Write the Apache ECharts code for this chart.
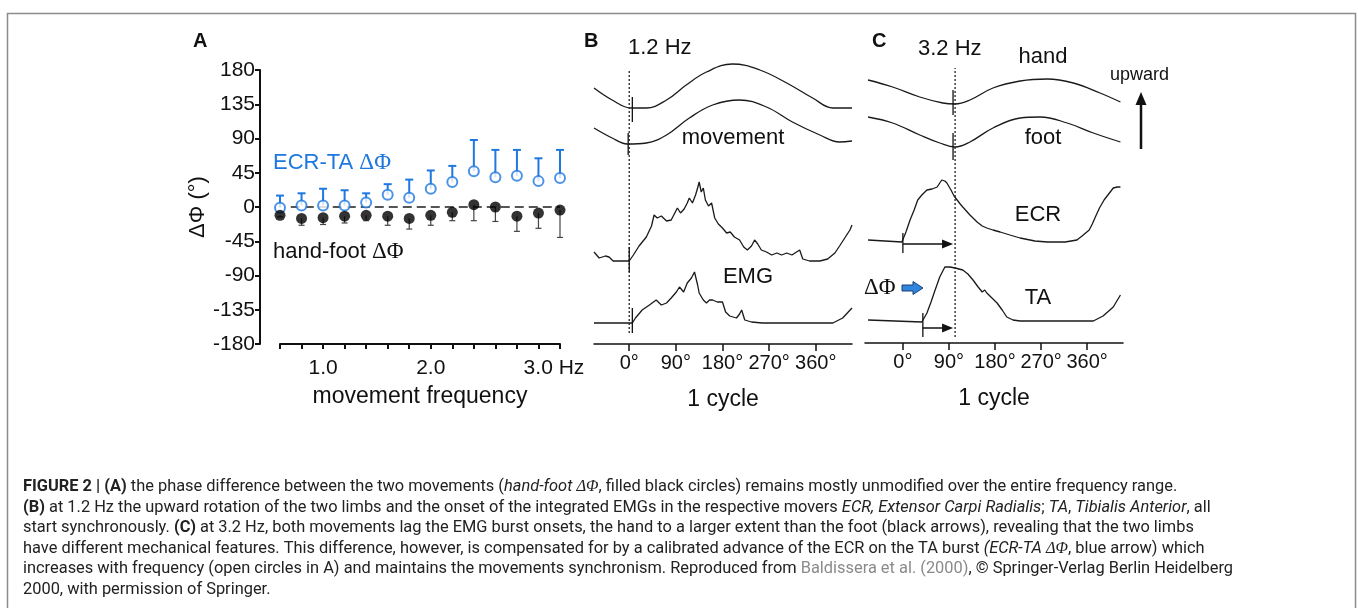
<!DOCTYPE html>
<html>
<head>
<meta charset="utf-8">
<script src="https://cdn.jsdelivr.net/npm/echarts@6/dist/echarts.min.js"></script>
<style>
  html, body { margin: 0; padding: 0; background: #fff; }
  #main { width: 1358px; height: 608px; }
</style>
</head>
<body>
<div id="main"></div>
<script>
// ---- panel A: phase difference vs movement frequency
const freqs = [0.6, 0.8, 1.0, 1.2, 1.4, 1.6, 1.8, 2.0, 2.2, 2.4, 2.6, 2.8, 3.0, 3.2];
const ecrTa = [-1, 2, 2, 2, 6, 16, 12, 24, 33, 47, 39, 41, 34, 38];
const ecrTaUpper = [15, 18, 24, 22, 18, 30, 36, 48, 54, 88, 75, 75, 64, 75];
const handFoot = [-11, -15, -14, -12, -11, -12, -15, -11, -7, 3, 0, -12, -8, -4];
const handFootLower = [-13, -24, -23, -21, -18, -24, -29, -24, -18, -18, -19, -32, -28, -40];
const zeroLine = [[0.7, 0], [3.2, 0]];
const freqLabels = [1, 2, 3];

// ---- panels B and C: one cycle, [degrees, trace level]
const degTicks = [0, 90, 180, 270, 360];

// B, 1.2 Hz
const bHand = [[-68, 256], [-33, 244], [4, 236], [33, 236], [72, 244], [110, 259], [149, 272], [199, 280],
  [252, 274], [304, 261], [354, 246], [393, 236], [430, 236]];
const bFoot = [[-68, 216], [-33, 206], [-4, 200], [33, 201], [72, 209], [116, 226], [161, 239], [213, 244],
  [265, 237], [315, 222], [368, 209], [406, 202], [430, 203]];
const bEcr = [[-68, 92], [-58, 86], [-46, 88], [-39, 87], [-31, 83], [0, 83], [8, 89], [19, 98], [33, 107],
  [43, 118], [48, 129], [54, 126], [62, 128], [72, 123], [81, 124], [89, 132], [93, 136], [99, 131],
  [106, 135], [112, 141], [116, 146], [122, 141], [128, 149], [132, 156], [135, 162], [139, 152],
  [143, 156], [147, 144], [153, 138], [159, 141], [165, 126], [172, 120], [180, 116], [188, 111],
  [195, 112], [203, 107], [213, 104], [221, 97], [228, 94], [236, 98], [242, 104], [248, 100],
  [255, 94], [265, 92], [275, 89], [285, 91], [294, 89], [304, 91], [314, 89], [323, 92], [329, 94],
  [335, 85], [348, 83], [368, 83], [383, 85], [397, 91], [406, 98], [416, 106], [426, 114], [430, 119]];
const bTa = [[-68, 21], [6, 21], [12, 26], [25, 34], [39, 39], [52, 44], [62, 39], [72, 41], [81, 46],
  [91, 52], [97, 57], [105, 52], [112, 61], [120, 66], [126, 72], [132, 59], [135, 51], [143, 44],
  [149, 41], [155, 44], [161, 44], [170, 42], [180, 42], [186, 32], [194, 28], [207, 26], [213, 30],
  [217, 34], [223, 24], [236, 22], [257, 21], [393, 21], [412, 26], [430, 36]];
const bOnset = [[0, 11], [0, 274]];
// onset ticks: [degree, from, to]
const bMarks = [[6, 222, 247], [-2, 189, 211], [0, 72, 97], [6, 11, 36]];

// C, 3.2 Hz
const cHand = [[-68, 263], [-20, 256], [33, 246], [78, 240], [102, 239], [131, 243], [176, 255],
  [229, 262], [282, 264], [333, 260], [385, 250], [425, 241]];
const cFoot = [[-68, 226], [-20, 220], [33, 208], [72, 200], [102, 196], [131, 201], [176, 215],
  [229, 225], [268, 226], [321, 220], [372, 210], [425, 201]];
const cEcr = [[-68, 103], [-35, 102], [-2, 101], [6, 111], [14, 123], [22, 133], [29, 143], [37, 148],
  [47, 153], [57, 154], [67, 156], [72, 160], [76, 163], [82, 162], [86, 160], [94, 153], [100, 147],
  [106, 143], [112, 139], [117, 136], [131, 128], [145, 121], [155, 117], [164, 115], [176, 113],
  [190, 111], [209, 108], [229, 105], [258, 102], [282, 101], [317, 101], [340, 103], [350, 107],
  [364, 113], [370, 119], [376, 126], [384, 135], [393, 143], [399, 147], [405, 151], [411, 155],
  [419, 156], [425, 156]];
const cTa = [[-68, 23], [37, 21], [47, 30], [55, 41], [63, 53], [72, 66], [82, 76], [92, 76], [102, 75],
  [117, 73], [127, 69], [137, 63], [147, 56], [155, 51], [160, 53], [164, 50], [174, 45], [184, 40],
  [194, 33], [203, 26], [215, 23], [229, 22], [372, 22], [391, 27], [411, 36], [425, 48]];
const cOnset = [[102, 6], [102, 275]];
const cMarks = [[98, 228, 253], [98, 183, 210], [0, 90, 110], [39, 6, 30]];
// lag arrows: [from degree, to degree, level]
const cLags = [[0, 98, 99], [39, 98, 15]];

const BLUE = '#1f78e0';
const FONT = '"Liberation Sans", Arial, sans-serif';
const GREEK = '"Liberation Serif", "DejaVu Serif", serif';
const CAP = 16.4;

const chart = echarts.init(document.getElementById('main'));

function errorBar(color, width, capW) {
  return function (params, api) {
    const p0 = api.coord([api.value(0), api.value(1)]);
    const p1 = api.coord([api.value(0), api.value(2)]);
    const st = { stroke: color, lineWidth: width };
    return {
      type: 'group',
      children: [
        { type: 'line', shape: { x1: p0[0], y1: p0[1], x2: p1[0], y2: p1[1] }, style: st },
        { type: 'line', shape: { x1: p1[0] - capW / 2, y1: p1[1], x2: p1[0] + capW / 2, y2: p1[1] }, style: st }
      ]
    };
  };
}

function vTick(params, api) {
  const p0 = api.coord([api.value(0), api.value(1)]);
  const p1 = api.coord([api.value(0), api.value(2)]);
  return { type: 'line', shape: { x1: p0[0], y1: p0[1], x2: p1[0], y2: p1[1] }, style: { stroke: '#111', lineWidth: 1.3 } };
}

function lagArrow(params, api) {
  const a = api.coord([api.value(0), api.value(2)]);
  const b = api.coord([api.value(1), api.value(2)]);
  return {
    type: 'group',
    children: [
      { type: 'line', shape: { x1: a[0], y1: a[1], x2: b[0] - 8, y2: b[1] }, style: { stroke: '#111', lineWidth: 1.5 } },
      { type: 'polygon', shape: { points: [[b[0], b[1]], [b[0] - 11, b[1] - 4.5], [b[0] - 11, b[1] + 4.5]] }, style: { fill: '#111' } }
    ]
  };
}

function trace(data, xi, smooth) {
  return {
    type: 'line', xAxisIndex: xi, yAxisIndex: xi, data: data, symbol: 'none', smooth: smooth ? 0.4 : false,
    lineStyle: { color: '#1a1a1a', width: 1.3 }, silent: true, z: 3
  };
}

function cycleAxis(gi, min) {
  return {
    type: 'value', gridIndex: gi, min: min, max: 430,
    axisLine: { show: true, onZero: false, lineStyle: { color: '#111', width: 1.5 } },
    axisTick: { show: true, customValues: degTicks, length: 7, lineStyle: { color: '#111', width: 1.5 } },
    axisLabel: { customValues: degTicks, formatter: '{value}°', fontSize: 20, color: '#111', margin: 9, fontFamily: FONT },
    splitLine: { show: false },
    name: '1 cycle', nameLocation: 'middle', nameGap: 44,
    nameTextStyle: { fontSize: 23, color: '#111', fontFamily: FONT }
  };
}

function hiddenY(gi) {
  return { type: 'value', gridIndex: gi, min: 0, max: 300, show: false };
}

function label(text, x, y, size, opts) {
  return {
    type: 'text', x: x, y: y, silent: true,
    style: Object.assign({ text: text, fontSize: size, fontFamily: FONT, fill: '#111', verticalAlign: 'middle', align: 'left' }, opts || {})
  };
}

const captionLines = [
  '{b|FIGURE 2 | (A)} the phase difference between the two movements ({i|hand-foot }{ig|ΔΦ}, filled black circles) remains mostly unmodified over the entire frequency range.',
  '{b|(B)} at 1.2 Hz the upward rotation of the two limbs and the onset of the integrated EMGs in the respective movers {i|ECR, Extensor Carpi Radialis}; {i|TA}, {i|Tibialis Anterior}, all',
  'start synchronously. {b|(C)} at 3.2 Hz, both movements lag the EMG burst onsets, the hand to a larger extent than the foot (black arrows), revealing that the two limbs',
  'have different mechanical features. This difference, however, is compensated for by a calibrated advance of the ECR on the TA burst {i|(ECR-TA }{ig|ΔΦ}, blue arrow) which',
  'increases with frequency (open circles in A) and maintains the movements synchronism. Reproduced from {g|Baldissera et al. (2000)}, © Springer-Verlag Berlin Heidelberg',
  '2000, with permission of Springer.'
];
const capRich = {
  b: { fontWeight: 'bold', fontSize: CAP, fontFamily: 'Roboto', fill: '#222' },
  i: { fontStyle: 'italic', fontSize: CAP, fontFamily: 'Roboto', fill: '#222' },
  ig: { fontStyle: 'italic', fontSize: CAP, fontFamily: GREEK, fill: '#222' },
  g: { fontSize: CAP, fontFamily: 'Roboto', fill: '#8a8a8a' }
};

const graphics = [
  { type: 'rect', shape: { x: 7.5, y: 13.5, width: 1348, height: 620 }, style: { fill: 'none', stroke: '#8c8c8c', lineWidth: 1.5 }, silent: true },
  label('A', 193, 41, 20, { fontWeight: 'bold' }),
  label('{t|ECR-TA }{g|ΔΦ}', 273, 163, 22, {
    rich: { t: { fontSize: 22, fontFamily: FONT, fill: BLUE }, g: { fontSize: 23, fontFamily: GREEK, fill: BLUE } }
  }),
  label('{t|hand-foot }{g|ΔΦ}', 273, 252, 22, {
    rich: { t: { fontSize: 22, fontFamily: FONT, fill: '#111' }, g: { fontSize: 23, fontFamily: GREEK, fill: '#111' } }
  }),
  label('B', 584, 41, 20, { fontWeight: 'bold' }),
  label('1.2 Hz', 628, 48, 22),
  label('movement', 733, 138, 22, { align: 'center' }),
  label('EMG', 748, 277, 22, { align: 'center' }),
  label('C', 872, 41, 20, { fontWeight: 'bold' }),
  label('3.2 Hz', 918, 49, 22),
  label('hand', 1043, 57, 22, { align: 'center' }),
  label('foot', 1043, 138, 22, { align: 'center' }),
  label('ECR', 1038, 215, 22, { align: 'center' }),
  label('TA', 1038, 298, 22, { align: 'center' }),
  label('ΔΦ', 864, 288, 23, { fontFamily: GREEK }),
  label('upward', 1110, 75, 18),
  { type: 'line', shape: { x1: 1141, y1: 149, x2: 1141, y2: 102 }, style: { stroke: '#111', lineWidth: 2.5 }, silent: true },
  { type: 'polygon', shape: { points: [[1141, 92], [1135.5, 105], [1146.5, 105]] }, style: { fill: '#111' }, silent: true },
  {
    type: 'polygon', silent: true,
    shape: { points: [[902, 285], [913, 285], [913, 281.5], [923, 288], [913, 294.5], [913, 291], [902, 291]] },
    style: { fill: '#2f86e0', stroke: '#1d3f73', lineWidth: 1 }
  }
];
captionLines.forEach(function (t, i) {
  graphics.push({
    type: 'text', x: 23, y: 487 + i * 20.6, silent: true,
    style: { text: t, rich: capRich, fontSize: CAP, fontFamily: 'Roboto', fill: '#222', verticalAlign: 'middle' }
  });
});

const option = {
  animation: false,
  backgroundColor: '#fff',
  textStyle: { fontFamily: FONT },
  grid: [
    { left: 280, width: 280, top: 70, height: 274 },
    { left: 594, width: 258, top: 44, height: 300 },
    { left: 865, width: 258, top: 43, height: 300 }
  ],
  xAxis: [
    {
      type: 'value', gridIndex: 0, min: 0.6, max: 3.2,
      axisLine: { show: true, onZero: false, lineStyle: { color: '#111', width: 2 } },
      axisTick: { show: true, customValues: freqs, length: 5, lineStyle: { color: '#111', width: 2 } },
      axisLabel: {
        customValues: freqLabels, fontSize: 21, color: '#111', margin: 14, fontFamily: FONT,
        formatter: function (v) { return v === 3 ? '{h|3.0 Hz}' : v.toFixed(1); },
        rich: { h: { fontSize: 21, color: '#111', fontFamily: FONT, padding: [0, 0, 0, 31] } }
      },
      splitLine: { show: false },
      name: 'movement frequency', nameLocation: 'middle', nameGap: 41,
      nameTextStyle: { fontSize: 23, color: '#111', fontFamily: FONT }
    },
    cycleAxis(1, -68),
    cycleAxis(2, -74)
  ],
  yAxis: [
    {
      type: 'value', gridIndex: 0, min: -180, max: 180, interval: 45, offset: 20,
      axisLine: { show: true, onZero: false, lineStyle: { color: '#111', width: 2 } },
      axisTick: { show: true, length: 5, lineStyle: { color: '#111', width: 2 } },
      axisLabel: { fontSize: 21, color: '#111', margin: 5, fontFamily: FONT },
      splitLine: { show: false },
      name: 'ΔΦ (°)', nameLocation: 'middle', nameGap: 40, nameRotate: 90,
      nameTextStyle: { fontSize: 22, color: '#111', fontFamily: FONT }
    },
    hiddenY(1),
    hiddenY(2)
  ],
  graphic: graphics,
  series: [
    {
      type: 'line', xAxisIndex: 0, yAxisIndex: 0, data: zeroLine, symbol: 'none', silent: true, z: 1,
      lineStyle: { color: '#555', width: 1.8, type: [9, 5] }
    },
    {
      type: 'custom', xAxisIndex: 0, yAxisIndex: 0, z: 2, silent: true,
      renderItem: errorBar(BLUE, 2, 8),
      data: freqs.map(function (f, i) { return [f, ecrTa[i], ecrTaUpper[i]]; })
    },
    {
      type: 'custom', xAxisIndex: 0, yAxisIndex: 0, z: 2, silent: true,
      renderItem: errorBar('#444', 1.2, 6),
      data: freqs.map(function (f, i) { return [f, handFoot[i], handFootLower[i]]; })
    },
    {
      type: 'scatter', xAxisIndex: 0, yAxisIndex: 0, z: 4, symbolSize: 10, clip: false,
      itemStyle: { color: '#fff', borderColor: BLUE, borderWidth: 2 },
      data: freqs.map(function (f, i) { return [f, ecrTa[i]]; })
    },
    {
      type: 'scatter', xAxisIndex: 0, yAxisIndex: 0, z: 4, symbolSize: 11, clip: false,
      itemStyle: { color: '#000' },
      data: freqs.map(function (f, i) { return [f, handFoot[i]]; })
    },
    trace(bHand, 1, true),
    trace(bFoot, 1, true),
    trace(bEcr, 1, false),
    trace(bTa, 1, false),
    {
      type: 'line', xAxisIndex: 1, yAxisIndex: 1, data: bOnset, symbol: 'none', silent: true,
      lineStyle: { color: '#222', width: 1.3, type: [2, 2] }
    },
    { type: 'custom', xAxisIndex: 1, yAxisIndex: 1, renderItem: vTick, data: bMarks, silent: true, z: 4 },
    trace(cHand, 2, true),
    trace(cFoot, 2, true),
    trace(cEcr, 2, false),
    trace(cTa, 2, false),
    {
      type: 'line', xAxisIndex: 2, yAxisIndex: 2, data: cOnset, symbol: 'none', silent: true,
      lineStyle: { color: '#222', width: 1.3, type: [2, 2] }
    },
    { type: 'custom', xAxisIndex: 2, yAxisIndex: 2, renderItem: vTick, data: cMarks, silent: true, z: 4 },
    { type: 'custom', xAxisIndex: 2, yAxisIndex: 2, renderItem: lagArrow, data: cLags, silent: true, z: 4 }
  ]
};

chart.setOption(option);
</script>
</body>
</html>
